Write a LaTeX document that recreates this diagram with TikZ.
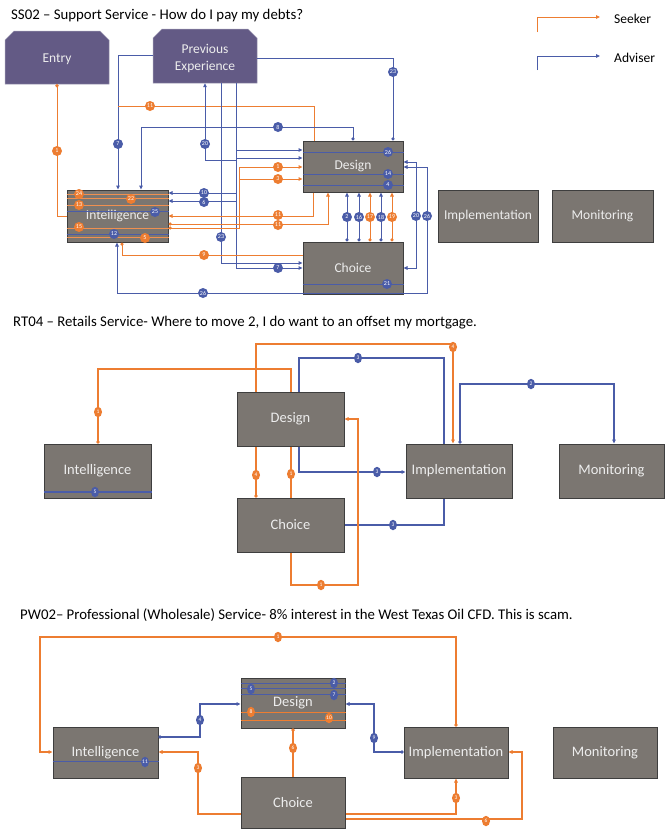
\documentclass[tikz,border=0pt]{standalone}
\usepackage{fontspec}
\setmainfont{Carlito}
\usetikzlibrary{arrows.meta,shapes.geometric}
\definecolor{boxgrey}{HTML}{7B7671}
\definecolor{boxline}{HTML}{3E3E3E}
\definecolor{purp}{HTML}{635A85}
\definecolor{org}{HTML}{ED7D31}
\definecolor{blu}{HTML}{4A5CA8}
\newcounter{bdc}
\newcommand\mybadge[3]{\stepcounter{bdc}\node[#1] (bdg\arabic{bdc}) at (#2) {#3};}
\begin{document}
\begin{tikzpicture}[x=1pt,y=-1pt,
 box/.style={draw=boxline, fill=boxgrey, text=white!93!black, line width=1pt, inner sep=0pt, font=\fontsize{13.5}{15}\selectfont},
 boxb/.style={box, font=\fontsize{14.5}{16}\selectfont},
 ptext/.style={text=white!93!black, inner sep=0pt, font=\fontsize{13.5}{16.5}\selectfont, align=center},
 ol/.style={draw=org, line width=1pt},
 bl/.style={draw=blu, line width=1pt},
 olb/.style={draw=org, line width=1.4pt},
 blb/.style={draw=blu, line width=1.3pt},
 tipA/.style={-{Triangle[length=4pt,width=3.6pt]}},
 tipDA/.style={{Circle[length=3.2pt]}-{Triangle[length=4pt,width=3.6pt]}},
 tipDS/.style={{Circle[length=3.2pt]}-},
 tipDE/.style={-{Circle[length=3.2pt]}},
 tipAA/.style={{Triangle[length=4pt,width=3.6pt]}-{Triangle[length=4pt,width=3.6pt]}},
 bB/.style={circle, fill=blu, text=white, inner sep=0pt, minimum size=10pt, font=\fontsize{6}{6}\selectfont},
 bO/.style={circle, fill=org, text=white, inner sep=0pt, minimum size=10pt, font=\fontsize{6}{6}\selectfont},
 sB/.style={ellipse, fill=blu, text=white, inner sep=0pt, minimum width=8pt, minimum height=10.5pt, font=\fontsize{5.5}{6}\selectfont},
 sO/.style={ellipse, fill=org, text=white, inner sep=0pt, minimum width=8pt, minimum height=10.5pt, font=\fontsize{5.5}{6}\selectfont},
 ttl/.style={anchor=west, inner sep=0pt, font=\fontsize{14.8}{16}\selectfont},
]
\useasboundingbox[fill=white] (0,0) rectangle (665,831);

% ================= SS02 =================
\node[ttl] (t1) at (11,16) {SS02 -- Support Service - How do I pay my debts?};

% legend
\draw[ol, tipA] (537,32) -- (537,17) -- (600,17);
\node[anchor=west, inner sep=0pt, font=\fontsize{13.5}{15}\selectfont] (lg1) at (614,19) {Seeker};
\draw[bl, tipA] (537,70) -- (537,56) -- (600,56);
\node[anchor=west, inner sep=0pt, font=\fontsize{13.5}{15}\selectfont] (lg2) at (614,58) {Adviser};

% entry & previous experience
\fill[purp] (5,84) -- (5,40) -- (14,31) -- (100,31) -- (109,40) -- (109,84) -- cycle;
\draw[purp!60!white, line width=0.5pt] (5,84) -- (5,40) -- (14,31) -- (100,31) -- (109,40) -- (109,84) -- cycle;
\node[ptext, minimum width=104pt, minimum height=50pt] (ent) at (57,59) {Entry};
\fill[purp] (153,83) -- (153,38) -- (162,29) -- (248,29) -- (257,38) -- (257,83) -- cycle;
\draw[purp!60!white, line width=0.5pt] (153,83) -- (153,38) -- (162,29) -- (248,29) -- (257,38) -- (257,83) -- cycle;
\node[ptext, minimum width=104pt, minimum height=49pt] (pe) at (205,58.5) {Previous\\Experience};

% boxes
\node[box, minimum width=100pt, minimum height=51pt] (des1) at (353,166.5) {Design};
\node[box, minimum width=100pt, minimum height=52pt] (cho1) at (353,268) {Choice};
\node[box, minimum width=101pt, minimum height=52pt] (int1) at (117.5,216) {Intelligence};
\node[box, minimum width=100pt, minimum height=52pt] (imp1) at (488,216) {Implementation};
\node[box, minimum width=101pt, minimum height=52pt] (mon1) at (602.5,216) {Monitoring};

% internal lines
\foreach \yy in {194,198,205,228,237} \draw[draw=org!85!white, line width=0.9pt] (int1.west |- 0,\yy) -- (int1.east |- 0,\yy);
\foreach \yy in {211,234} \draw[bl, line width=0.9pt] (int1.west |- 0,\yy) -- (int1.east |- 0,\yy);
\foreach \yy in {152,174,185} \draw[bl, line width=0.9pt] (des1.west |- 0,\yy) -- (des1.east |- 0,\yy);
\draw[bl, line width=0.9pt] (cho1.west |- 0,284) -- (cho1.east |- 0,284);

% connectors
\draw[ol, tipDS] (ent.south) -- (57,216) -- (int1.west |- 0,216);
\draw[bl, tipA] (pe.west |- 0,55) -- (118,55) -- (int1.north -| 118,0);
\draw[ol] (118,106) -- (314,106) -- (des1.north -| 314,0);
\draw[bl, tipDA] (des1.north -| 353,0) -- (353,127) -- (141,127) -- (int1.north -| 141,0);
\draw[bl, tipDE] (pe.east |- 0,58) -- (393,58) -- (des1.north -| 393,0);
\draw[bl, tipA] (236,160) -- (205,160) -- (pe.south -| 205,0);
\draw[bl, tipA] (pe.south -| 221,0) -- (221,263) -- (cho1.west |- 0,263);
\draw[bl, tipA] (pe.south -| 236,0) -- (236,268) -- (cho1.west |- 0,268);
\draw[bl, tipA] (236,150) -- (des1.west |- 0,150);
\draw[bl, tipA] (236,158) -- (des1.west |- 0,158);
\draw[bl, tipA] (236,193) -- (int1.east |- 0,193);
\draw[bl, tipA] (236,201) -- (int1.east |- 0,201);
\draw[ol, tipDA] (int1.east |- 0,228) -- (239,228) -- (239,167) -- (des1.west |- 0,167);
\draw[ol, tipA] (239,179) -- (des1.west |- 0,179);
\draw[ol, tipA] (des1.south -| 313,0) -- (313,216) -- (int1.east |- 0,216);
\draw[ol, tipDA] (int1.east |- 0,224) -- (328,224) -- (des1.south -| 328,0);
\draw[ol, tipDS] (int1.south -| 122,0) -- (122,255) -- (cho1.west |- 0,255);
\draw[bl, tipAA] (int1.south -| 117,0) -- (117,293) -- (427,293) -- (427,167) -- (des1.east |- 0,167);
\draw[bl, tipAA] (des1.east |- 0,162) -- (416,162) -- (416,268) -- (cho1.east |- 0,268);
\foreach \xx/\cc in {347/blu,359/blu,370/org,381/blu,392/org}
  \draw[draw=\cc, line width=1pt, tipDA] (cho1.north -| \xx,0) -- (des1.south -| \xx,0);

% badges SS02
\mybadge{bO}{57,151}{1}
\mybadge{bO}{150,106}{11}
\mybadge{bO}{278,167}{1}
\mybadge{bO}{278,179}{3}
\mybadge{bO}{278,215}{11}
\mybadge{bO}{278,225}{11}
\mybadge{bO}{204,255}{9}
\mybadge{bO}{370,217}{17}
\mybadge{bO}{392,217}{19}
\mybadge{bO}{79,194}{24}
\mybadge{bO}{131,199}{22}
\mybadge{bO}{79,205}{13}
\mybadge{bO}{79,227}{15}
\mybadge{bO}{145,238}{5}
\mybadge{bB}{118,144}{7}
\mybadge{bB}{278,127}{8}
\mybadge{bB}{205,144}{20}
\mybadge{bB}{393,72}{23}
\mybadge{bB}{221,237}{23}
\mybadge{bB}{278,268}{7}
\mybadge{bB}{204,193}{10}
\mybadge{bB}{204,202}{6}
\mybadge{bB}{203,293}{26}
\mybadge{bB}{347,217}{2}
\mybadge{bB}{359,217}{16}
\mybadge{bB}{381,217}{18}
\mybadge{bB}{416,216}{20}
\mybadge{bB}{427,216}{26}
\mybadge{bB}{388,152}{26}
\mybadge{bB}{388,174}{14}
\mybadge{bB}{388,185}{4}
\mybadge{bB}{387,284}{21}
\mybadge{bB}{155,212}{25}
\mybadge{bB}{114,234}{12}

% ================= RT04 =================
\node[ttl] (t2) at (13,323) {RT04 -- Retails Service- Where to move 2, I do want to an offset my mortgage.};

\node[boxb, minimum width=107pt, minimum height=54pt] (int2) at (97.5,471) {Intelligence};
\node[boxb, minimum width=107pt, minimum height=54pt] (des2) at (290.5,419) {Design};
\node[boxb, minimum width=107pt, minimum height=54pt] (cho2) at (290.5,525) {Choice};
\node[boxb, minimum width=106pt, minimum height=54pt] (imp2) at (459,471) {Implementation};
\node[boxb, minimum width=105pt, minimum height=54pt] (mon2) at (611.5,471) {Monitoring};

\draw[blb] (int2.west |- 0,492) -- (int2.east |- 0,492);

\draw[olb, tipDS] (cho2.north -| 256,0) -- (des2.south -| 256,0);
\draw[olb, tipA] (des2.north -| 256,0) -- (256,344) -- (453,344) -- (imp2.north -| 453,0);
\draw[blb] (cho2.east |- 0,525) -- (444,525) -- (imp2.south -| 444,0);
\draw[blb] (imp2.north -| 444,0) -- (444,358) -- (299,358) -- (des2.north -| 299,0);
\draw[blb, tipA] (des2.south -| 299,0) -- (299,472) -- (imp2.west |- 0,472);
\draw[olb, tipDS] (int2.north -| 98,0) -- (98,369) -- (291,369) -- (des2.north -| 291,0);
\draw[olb] (des2.south -| 291,0) -- (cho2.north -| 291,0);
\draw[olb, tipA] (cho2.south -| 291,0) -- (291,585) -- (358,585) -- (358,419) -- (des2.east |- 0,419);
\draw[blb, tipDA] (imp2.north -| 460,0) -- (460,384) -- (614,384) -- (mon2.north -| 614,0);

\mybadge{sO}{453,347}{4}
\mybadge{sO}{256,475}{4}
\mybadge{sO}{291,474}{1}
\mybadge{sO}{98,412}{1}
\mybadge{sO}{321,585}{1}
\mybadge{sB}{358,358}{3}
\mybadge{sB}{377,472}{3}
\mybadge{sB}{393,525}{3}
\mybadge{sB}{531,384}{2}
\mybadge{sB}{95,492}{5}

% ================= PW02 =================
\node[ttl] (t3) at (20,615) {PW02-- Professional (Wholesale) Service- 8\% interest in the West Texas Oil CFD. This is scam.};

\node[boxb, minimum width=105pt, minimum height=51pt] (int3) at (105.5,752.5) {Intelligence};
\node[boxb, minimum width=104pt, minimum height=50pt] (des3) at (293,703) {Design};
\node[boxb, minimum width=104pt, minimum height=51pt] (cho3) at (293,802.5) {Choice};
\node[boxb, minimum width=104pt, minimum height=51pt] (imp3) at (456,752.5) {Implementation};
\node[boxb, minimum width=104pt, minimum height=51pt] (mon3) at (605,752.5) {Monitoring};

\foreach \yy in {683,688,694} \draw[bl] (des3.west |- 0,\yy) -- (des3.east |- 0,\yy);
\foreach \yy in {712,720} \draw[ol] (des3.west |- 0,\yy) -- (des3.east |- 0,\yy);
\draw[bl] (int3.west |- 0,761) -- (int3.east |- 0,761);

\draw[olb, tipDA] (imp3.north -| 456,0) -- (456,637) -- (40,637) -- (40,752) -- (int3.west |- 0,752);
\draw[blb, tipDA] (int3.east |- 0,737) -- (200,737) -- (200,704) -- (des3.west |- 0,704);
\draw[blb, tipDA] (imp3.west |- 0,752) -- (374,752) -- (374,704) -- (des3.east |- 0,704);
\draw[olb, tipDE] (cho3.north -| 293,0) -- (des3.south -| 293,0);
\draw[olb, tipA] (cho3.west |- 0,814) -- (198,814) -- (198,752) -- (int3.east |- 0,752);
\draw[olb, tipA] (cho3.east |- 0,814) -- (456,814) -- (imp3.south -| 456,0);
\draw[olb, tipA] (cho3.east |- 0,819) -- (522,819) -- (522,752) -- (imp3.east |- 0,752);

\mybadge{sO}{278,637}{1}
\mybadge{sB}{200,720}{4}
\mybadge{sB}{374,738}{9}
\mybadge{sO}{293,748}{6}
\mybadge{sO}{198,768}{3}
\mybadge{sO}{456,798}{3}
\mybadge{sO}{486,821}{6}
\mybadge{sB}{145,762}{11}
\mybadge{sB}{334,683}{2}
\mybadge{sB}{251,689}{5}
\mybadge{sB}{334,695}{7}
\mybadge{sO}{251,712}{8}
\mybadge{sO}{329,718}{10}
\end{tikzpicture}
\end{document}
